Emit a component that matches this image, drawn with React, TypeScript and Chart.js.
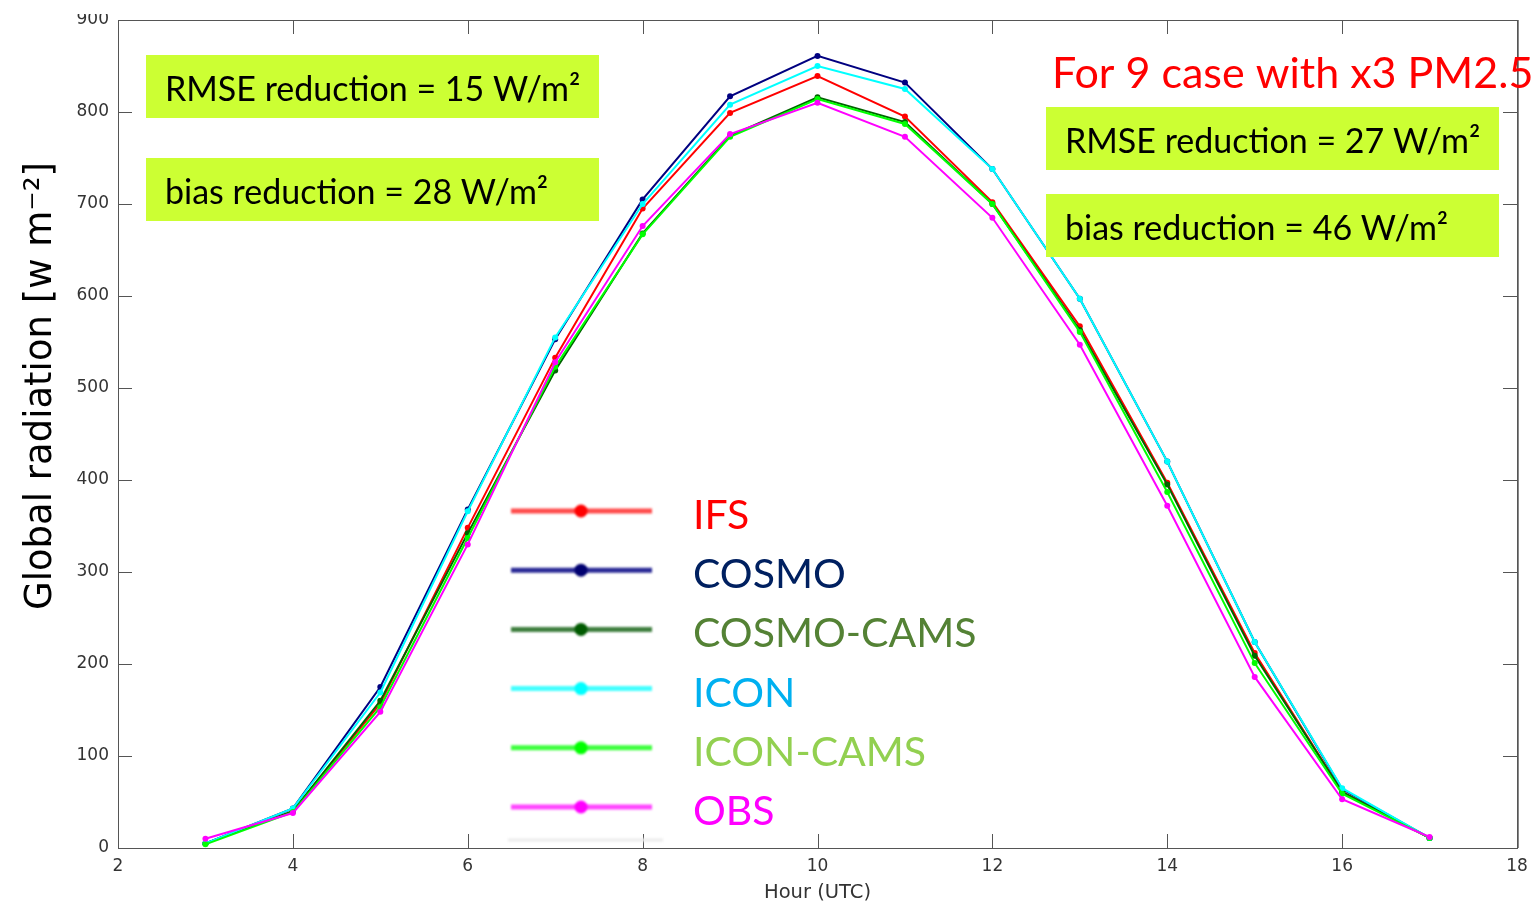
import React, { useEffect, useRef } from "react";
import { Chart, registerables } from "chart.js";

Chart.register(...registerables);

const hours = [3, 4, 5, 6, 7, 8, 9, 10, 11, 12, 13, 14, 15, 16, 17];
const ifs = [5, 40, 157, 348, 533, 695, 799, 839, 795, 702, 567, 397, 212, 61, 11];
const cosmo = [5, 43, 175, 368, 553, 705, 817, 861, 832, 738, 597, 420, 224, 64, 11];
const cosmoCams = [5, 40, 160, 342, 519, 668, 774, 816, 789, 700, 563, 395, 209, 61, 11];
const icon = [5, 43, 169, 366, 555, 700, 808, 850, 825, 738, 597, 420, 224, 65, 11];
const iconCams = [4, 39, 153, 337, 523, 667, 773, 814, 787, 700, 561, 387, 201, 59, 11];
const obs = [10, 38, 148, 330, 528, 676, 776, 810, 773, 685, 547, 372, 186, 53, 12];

const seriesNames = ["IFS", "COSMO", "COSMO-CAMS", "ICON", "ICON-CAMS", "OBS"];
const seriesValues = [ifs, cosmo, cosmoCams, icon, iconCams, obs];
const lineColors = ["#ff0000", "#000080", "#006400", "#00ffff", "#00ff00", "#ff00ff"];
const legendLineColors = ["#ff4a4a", "#2a2a96", "#3f7f3f", "#44ffff", "#3cff3c", "#ff44ff"];
const legendDotColors = ["#ff0000", "#000070", "#005a00", "#00ffff", "#00ff00", "#ff00ff"];
const legendTextColors = ["#ff0000", "#002060", "#548235", "#00b0f0", "#92d050", "#ff00ff"];

const xTitle = "Hour (UTC)";
const yTitle = "Global radiation [w m\u207B\u00B2]";
const caseTitle = "For 9 case with x3 PM2.5";
const leftNotes = ["RMSE reduction = 15 W/m\u00B2", "bias reduction = 28 W/m\u00B2"];
const rightNotes = ["RMSE reduction = 27 W/m\u00B2", "bias reduction = 46 W/m\u00B2"];

const X_MIN = 2, X_MAX = 18, X_STEP = 2;
const Y_MIN = 0, Y_MAX = 900, Y_STEP = 100;

const AXIS_COLOR = "#555555";
const TICK_COLOR = "#333333";
const NOTE_BG = "#ccff33";

const decor = {
  id: "decor",
  afterDatasetsDraw(chart: any) {
    const ctx: CanvasRenderingContext2D = chart.ctx;
    const { left, right, top, bottom } = chart.chartArea;
    const xs = chart.scales.x;
    const ys = chart.scales.y;
    ctx.save();

    // frame
    ctx.strokeStyle = AXIS_COLOR;
    ctx.lineWidth = 1;
    ctx.strokeRect(Math.round(left) + 0.5, Math.round(top) + 0.5, Math.round(right - left), Math.round(bottom - top));
    ctx.strokeStyle = "#888888";
    ctx.beginPath();
    ctx.moveTo(Math.round(right) + 1.5, top);
    ctx.lineTo(Math.round(right) + 1.5, bottom);
    ctx.stroke();

    // inward tick marks
    ctx.strokeStyle = AXIS_COLOR;
    ctx.beginPath();
    for (let v = Y_MIN; v <= Y_MAX; v += Y_STEP) {
      const py = Math.round(ys.getPixelForValue(v)) + 0.5;
      ctx.moveTo(left, py); ctx.lineTo(left + 14, py);
      ctx.moveTo(right, py); ctx.lineTo(right - 14, py);
    }
    for (let v = X_MIN; v <= X_MAX; v += X_STEP) {
      const px = Math.round(xs.getPixelForValue(v)) + 0.5;
      ctx.moveTo(px, bottom); ctx.lineTo(px, bottom - 14);
      ctx.moveTo(px, top); ctx.lineTo(px, top + 14);
    }
    ctx.stroke();

    // x title
    ctx.fillStyle = TICK_COLOR;
    ctx.font = "19.5px 'DejaVu Sans'";
    ctx.textAlign = "center";
    ctx.textBaseline = "middle";
    ctx.fillText(xTitle, (left + right) / 2, 893);

    // y title
    ctx.save();
    ctx.translate(41, 386);
    ctx.rotate(-Math.PI / 2);
    ctx.fillStyle = "#000000";
    ctx.font = "37px 'DejaVu Sans'";
    ctx.textAlign = "center";
    ctx.textBaseline = "middle";
    ctx.fillText(yTitle, 0, 0);
    ctx.restore();

    // note boxes
    const drawNote = (text: string, x: number, y: number) => {
      ctx.fillStyle = NOTE_BG;
      ctx.fillRect(x, y, 453, 63);
      ctx.fillStyle = "#000000";
      ctx.font = "34px Lato";
      ctx.textAlign = "left";
      ctx.textBaseline = "middle";
      ctx.fillText(text, x + 19, y + 35);
    };
    drawNote(leftNotes[0], 146, 55);
    drawNote(leftNotes[1], 146, 158);
    drawNote(rightNotes[0], 1046, 107);
    drawNote(rightNotes[1], 1046, 194);

    // case title
    ctx.fillStyle = "#ff0000";
    ctx.font = "43px Lato";
    ctx.textAlign = "left";
    ctx.textBaseline = "alphabetic";
    ctx.fillText(caseTitle, 1052, 88);

    // legend (blurred pasted image look)
    const rowY0 = 511, rowStep = 59.2;
    for (let i = 0; i < seriesNames.length; i++) {
      const y = rowY0 + i * rowStep;
      ctx.save();
      ctx.filter = "blur(1.2px)";
      ctx.strokeStyle = legendLineColors[i];
      ctx.lineWidth = 5;
      ctx.beginPath();
      ctx.moveTo(511, y); ctx.lineTo(652, y);
      ctx.stroke();
      ctx.fillStyle = legendDotColors[i];
      ctx.beginPath();
      ctx.arc(581, y, 6.5, 0, Math.PI * 2);
      ctx.fill();
      ctx.restore();
      ctx.fillStyle = legendTextColors[i];
      ctx.font = "41px Lato";
      ctx.textAlign = "left";
      ctx.textBaseline = "alphabetic";
      ctx.fillText(seriesNames[i], 693, y + 18);
    }
    ctx.save();
    ctx.filter = "blur(1px)";
    ctx.strokeStyle = "#ececec";
    ctx.lineWidth = 3;
    ctx.beginPath();
    ctx.moveTo(508, 840); ctx.lineTo(663, 840);
    ctx.stroke();
    ctx.restore();

    ctx.restore();
  },
  afterDraw(chart: any) {
    const ctx: CanvasRenderingContext2D = chart.ctx;
    ctx.save();
    ctx.fillStyle = "#ffffff";
    ctx.fillRect(0, 0, 116, 14);
    ctx.restore();
  },
};

export default function App() {
  const ref = useRef<HTMLCanvasElement>(null);
  useEffect(() => {
    const datasets = seriesNames.map((name, i) => ({
      label: name,
      data: hours.map((h, j) => ({ x: h, y: seriesValues[i][j] })),
      borderColor: lineColors[i],
      backgroundColor: lineColors[i],
      pointBackgroundColor: lineColors[i],
      pointBorderWidth: 0,
      pointRadius: 3,
      borderWidth: 2,
      tension: 0,
      fill: false,
      order: seriesNames.length - i,
    }));
    const chart = new Chart(ref.current as HTMLCanvasElement, {
      type: "line",
      data: { datasets },
      options: {
        responsive: false,
        animation: false,
        devicePixelRatio: 1,
        layout: { padding: { top: 20, right: 19, left: 0, bottom: 0 } },
        plugins: { legend: { display: false }, tooltip: { enabled: false }, title: { display: false } },
        scales: {
          x: {
            type: "linear",
            min: X_MIN,
            max: X_MAX,
            ticks: { stepSize: X_STEP, color: TICK_COLOR, font: { family: "DejaVu Sans", size: 17 }, padding: 8, maxRotation: 0 },
            grid: { display: false, drawTicks: false },
            border: { display: false },
            afterFit: (s: any) => { s.height = 60; },
          },
          y: {
            type: "linear",
            min: Y_MIN,
            max: Y_MAX,
            ticks: { stepSize: Y_STEP, color: TICK_COLOR, font: { family: "DejaVu Sans", size: 17 }, padding: 9 },
            grid: { display: false, drawTicks: false },
            border: { display: false },
            afterFit: (s: any) => { s.width = 118; },
          },
        },
      } as any,
      plugins: [decor],
    });
    return () => chart.destroy();
  }, []);
  return (
    <div style={{ position: "absolute", left: 0, top: 0, width: 1536, height: 908, background: "#ffffff" }}>
      <canvas ref={ref} width={1536} height={908} style={{ width: 1536, height: 908, display: "block" }} />
    </div>
  );
}
